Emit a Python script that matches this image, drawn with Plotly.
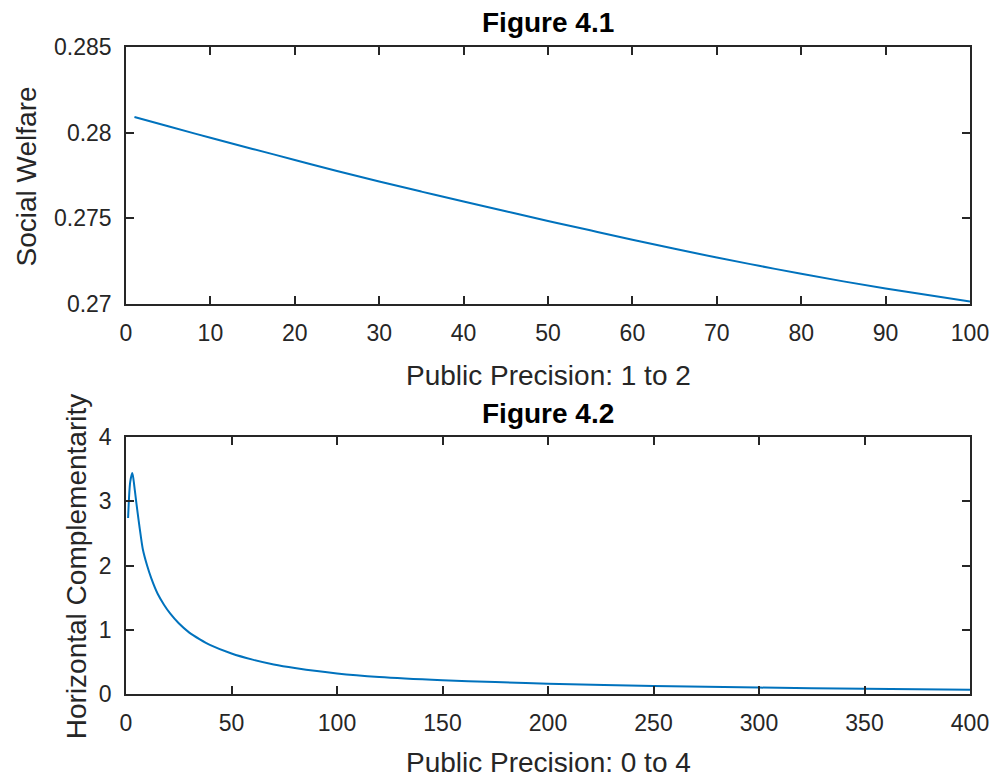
import plotly.graph_objects as go

# Figure 4.1: social welfare against public precision (index 1..100)
welfare_x = [1, 5, 10, 15, 20, 25, 30, 35, 40, 45, 50,
             55, 60, 65, 70, 75, 80, 85, 90, 95, 100]
welfare_y = [0.28091, 0.28037, 0.27970, 0.27905, 0.27841, 0.27776, 0.27715,
             0.27656, 0.27598, 0.27541, 0.27485, 0.27430, 0.27375, 0.27322,
             0.27271, 0.27223, 0.27176, 0.27132, 0.27091, 0.27052, 0.27014]

# Figure 4.2: horizontal complementarity against public precision (index 1..400)
comp_x = [1, 2, 3, 4, 5, 6, 7, 8, 10, 12, 15, 18, 21, 25, 30, 35, 40,
          50, 60, 70, 80, 100, 120, 150, 175, 200, 250, 300, 350, 400]
comp_y = [2.74, 3.30, 3.44, 3.22, 2.95, 2.70, 2.46, 2.25, 2.00, 1.80, 1.56,
          1.39, 1.25, 1.10, 0.955, 0.85, 0.76, 0.63, 0.535, 0.46, 0.405,
          0.32, 0.265, 0.215, 0.185, 0.16, 0.125, 0.100, 0.082, 0.068]

top_xticks = [0, 10, 20, 30, 40, 50, 60, 70, 80, 90, 100]
top_yticks = [0.27, 0.275, 0.28, 0.285]
top_yticktext = ["0.27", "0.275", "0.28", "0.285"]
bot_xticks = [0, 50, 100, 150, 200, 250, 300, 350, 400]
bot_yticks = [0, 1, 2, 3, 4]

LINE = "#0072BD"
AX = "#262626"
FONT = "Liberation Sans, Arial, sans-serif"

fig = go.Figure()
fig.add_trace(go.Scatter(x=welfare_x, y=welfare_y, mode="lines",
                         line=dict(color=LINE, width=2, shape="spline"),
                         xaxis="x", yaxis="y", showlegend=False))
fig.add_trace(go.Scatter(x=comp_x, y=comp_y, mode="lines",
                         line=dict(color=LINE, width=2, shape="spline", smoothing=0.8),
                         xaxis="x2", yaxis="y2", showlegend=False))

axis_common = dict(showline=True, linecolor=AX, linewidth=1.5, mirror="ticks",
                   ticks="inside", ticklen=8, tickwidth=1.5, tickcolor=AX,
                   showgrid=False, zeroline=False,
                   tickfont=dict(family=FONT, size=23, color=AX))

top_dom = [(694 - 304) / 647, 1.0]
bot_dom = [0.0, (694 - 437) / 647]

fig.update_layout(
    width=1001, height=778,
    margin=dict(l=126, r=27, t=47, b=84),
    paper_bgcolor="white", plot_bgcolor="white",
    xaxis=dict(domain=[0, 1], anchor="y", range=[0, 100], tickvals=top_xticks,
               ticklabelstandoff=8, **axis_common),
    yaxis=dict(domain=top_dom, anchor="x", range=[0.27, 0.285],
               tickvals=top_yticks, ticktext=top_yticktext,
               ticklabelstandoff=8, **axis_common),
    xaxis2=dict(domain=[0, 1], anchor="y2", range=[0, 400], tickvals=bot_xticks,
                ticklabelstandoff=8, **axis_common),
    yaxis2=dict(domain=bot_dom, anchor="x2", range=[0, 4], tickvals=bot_yticks,
                ticklabelstandoff=8, **axis_common),
)

label_font = dict(family=FONT, size=28, color=AX)
title_font = dict(family=FONT, size=28, color="black", weight="bold")

annotations = [
    dict(text="Figure 4.1", x=550, y=22, font=title_font),
    dict(text="Public Precision: 1 to 2", x=550, y=375, font=label_font),
    dict(text="Figure 4.2", x=550, y=413, font=title_font),
    dict(text="Public Precision: 0 to 4", x=550, y=762, font=label_font),
    dict(text="Social Welfare", x=26, y=176, font=label_font, textangle=-90),
    dict(text="Horizontal Complementarity", x=76, y=567, font=label_font, textangle=-90),
]
for a in annotations:
    fig.add_annotation(
        text=a["text"], xref="paper", yref="paper",
        x=(a["x"] - 126) / (974 - 126), y=(694 - a["y"]) / 647,
        xanchor="center", yanchor="middle", showarrow=False,
        font=a["font"], textangle=a.get("textangle", 0),
    )

fig.write_html("out.html")
